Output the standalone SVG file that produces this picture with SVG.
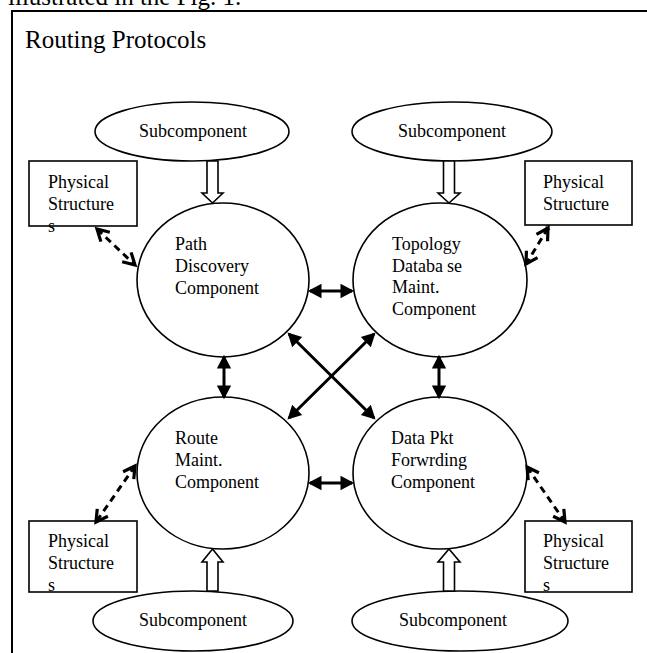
<svg xmlns="http://www.w3.org/2000/svg" width="647" height="653" viewBox="0 0 647 653">
<style>
  text { font-family: "Liberation Serif", "Times New Roman", serif; fill: #000; }
  .lbl { font-size: 18px; }
  .shape { fill: #fff; stroke: #000; stroke-width: 1.6; }
  .hollow { fill: #fff; stroke: #000; stroke-width: 1.6; }
  .solid { fill: none; stroke: #000; stroke-width: 3; }
  .dash { fill: none; stroke: #000; stroke-width: 3; stroke-dasharray: 7 5; }
</style>
<defs>
  <marker id="solidHead" markerUnits="userSpaceOnUse" markerWidth="16" markerHeight="16" refX="12" refY="7" orient="auto-start-reverse" viewBox="0 0 16 14">
    <path d="M1.5,1.5 L12,7 L1.5,12.5 Z" fill="#000" stroke="#000" stroke-width="2" stroke-linejoin="miter"/>
  </marker>
  <marker id="openHead" markerUnits="userSpaceOnUse" markerWidth="18" markerHeight="18" refX="13" refY="8" orient="auto-start-reverse" viewBox="0 0 18 16">
    <path d="M1.5,1.5 L13,8 L1.5,14.5" fill="none" stroke="#000" stroke-width="3.2" stroke-dasharray="none"/>
  </marker>
  <clipPath id="clipTL"><rect x="29" y="161" width="108" height="75"/></clipPath>
  <clipPath id="clipTR"><rect x="525" y="161" width="107" height="69"/></clipPath>
  <clipPath id="clipBL"><rect x="29" y="521" width="108" height="71"/></clipPath>
  <clipPath id="clipBR"><rect x="525" y="521" width="107" height="71"/></clipPath>
</defs>

<text x="8" y="5" style="font-size:25px">illustrated in the Fig. 1.</text>

<g id="frame">
  <path d="M12,655 L12,11 L650,11" fill="none" stroke="#000" stroke-width="2"/>
  <text x="25" y="48" style="font-size:25px">Routing Protocols</text>
</g>

<g id="sub-top-left">
  <ellipse class="shape" cx="192" cy="131.5" rx="97" ry="29.5"/>
  <text class="lbl" x="193" y="137" text-anchor="middle">Subcomponent</text>
</g>
<g id="sub-top-right">
  <ellipse class="shape" cx="452" cy="131.5" rx="100" ry="29.5"/>
  <text class="lbl" x="452" y="137" text-anchor="middle">Subcomponent</text>
</g>
<g id="sub-bottom-left">
  <ellipse class="shape" cx="193" cy="621" rx="100" ry="30"/>
  <text class="lbl" x="193" y="626" text-anchor="middle">Subcomponent</text>
</g>
<g id="sub-bottom-right">
  <ellipse class="shape" cx="460" cy="621" rx="108" ry="30"/>
  <text class="lbl" x="453" y="626" text-anchor="middle">Subcomponent</text>
</g>

<g id="phys-top-left">
  <rect class="shape" x="29" y="161" width="108" height="65"/>
  <g clip-path="url(#clipTL)">
    <text class="lbl" x="48" y="188">Physical</text>
    <text class="lbl" x="48" y="210">Structure</text>
    <text class="lbl" x="48" y="232">s</text>
  </g>
</g>
<g id="phys-top-right">
  <rect class="shape" x="525" y="161" width="107" height="64"/>
  <g clip-path="url(#clipTR)">
    <text class="lbl" x="543" y="188">Physical</text>
    <text class="lbl" x="543" y="210">Structure</text>
    <text class="lbl" x="545" y="232" style="font-size:14px">s</text>
  </g>
</g>
<g id="phys-bottom-left">
  <rect class="shape" x="29" y="521" width="108" height="71"/>
  <g clip-path="url(#clipBL)">
    <text class="lbl" x="48" y="547">Physical</text>
    <text class="lbl" x="48" y="569">Structure</text>
    <text class="lbl" x="48" y="591">s</text>
  </g>
</g>
<g id="phys-bottom-right">
  <rect class="shape" x="525" y="521" width="107" height="71"/>
  <g clip-path="url(#clipBR)">
    <text class="lbl" x="543" y="547">Physical</text>
    <text class="lbl" x="543" y="569">Structure</text>
    <text class="lbl" x="543" y="591">s</text>
  </g>
</g>

<g id="path-discovery">
  <ellipse class="shape" cx="223" cy="280" rx="86" ry="77"/>
  <text class="lbl" x="175" y="250">Path</text>
  <text class="lbl" x="175" y="272">Discovery</text>
  <text class="lbl" x="175" y="294">Component</text>
</g>
<g id="topology-db">
  <ellipse class="shape" cx="440" cy="280" rx="87" ry="77"/>
  <text class="lbl" x="392" y="250">Topology</text>
  <text class="lbl" x="392" y="271.5">Databa<tspan dx="4">se</tspan></text>
  <text class="lbl" x="392" y="293">Maint.</text>
  <text class="lbl" x="392" y="314.5">Component</text>
</g>
<g id="route-maint">
  <ellipse class="shape" cx="223" cy="473" rx="86" ry="76"/>
  <text class="lbl" x="175" y="444">Route</text>
  <text class="lbl" x="175" y="466">Maint.</text>
  <text class="lbl" x="175" y="488">Component</text>
</g>
<g id="data-pkt">
  <ellipse class="shape" cx="440" cy="473" rx="87" ry="76"/>
  <text class="lbl" x="391" y="444">Data Pkt</text>
  <text class="lbl" x="391" y="466">Forwrding</text>
  <text class="lbl" x="391" y="488">Component</text>
</g>

<g id="connectors">
  <path class="hollow" d="M207,161 L218,161 L218,193 L223,193 L212.5,203 L202,193 L207,193 Z"/>
  <path class="hollow" d="M443.5,161 L454.5,161 L454.5,193 L460,193 L449,203 L438,193 L443.5,193 Z"/>
  <path class="hollow" d="M207,591 L218,591 L218,562 L223,562 L212.5,549 L202,562 L207,562 Z"/>
  <path class="hollow" d="M443.5,591 L454.5,591 L454.5,562 L460,562 L449,549 L438,562 L443.5,562 Z"/>

  <line class="solid" x1="310" y1="291" x2="352" y2="291" marker-start="url(#solidHead)" marker-end="url(#solidHead)"/>
  <line class="solid" x1="310" y1="483" x2="352" y2="483" marker-start="url(#solidHead)" marker-end="url(#solidHead)"/>
  <line class="solid" x1="224" y1="357" x2="224" y2="397" marker-start="url(#solidHead)" marker-end="url(#solidHead)"/>
  <line class="solid" x1="439" y1="357" x2="439" y2="397" marker-start="url(#solidHead)" marker-end="url(#solidHead)"/>
  <line class="solid" x1="289" y1="334" x2="374" y2="418" marker-start="url(#solidHead)" marker-end="url(#solidHead)"/>
  <line class="solid" x1="374" y1="334" x2="289" y2="418" marker-start="url(#solidHead)" marker-end="url(#solidHead)"/>

  <line class="dash" x1="97" y1="229" x2="135" y2="265" marker-start="url(#openHead)" marker-end="url(#openHead)"/>
  <line class="dash" x1="548" y1="228" x2="526" y2="264" marker-start="url(#openHead)" marker-end="url(#openHead)"/>
  <line class="dash" x1="135" y1="466" x2="96" y2="522" marker-start="url(#openHead)" marker-end="url(#openHead)"/>
  <line class="dash" x1="527" y1="467" x2="565" y2="522" marker-start="url(#openHead)" marker-end="url(#openHead)"/>
</g>
</svg>
